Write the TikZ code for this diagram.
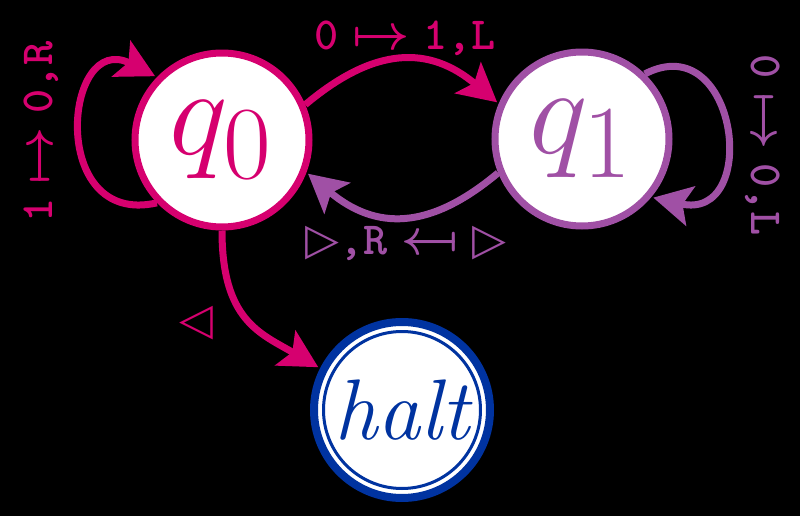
\documentclass[tikz,border=0pt]{standalone}
\usepackage{amsmath}
\usepackage{amssymb}
\usepackage{graphicx}
\usepackage{fontspec}
\usepackage{tikz}
\usetikzlibrary{arrows.meta}

\newfontfamily\trifont{DejaVu Sans}

\definecolor{rubine}{RGB}{214,0,111}
\definecolor{orchid}{RGB}{160,80,165}
\definecolor{royal}{RGB}{0,51,160}

\newcommand{\mto}{\hspace{.3em}$\mapsto$\hspace{.3em}}
\newcommand{\mfrom}{\hspace{.3em}\reflectbox{$\mapsto$}\hspace{.3em}}
\newcommand{\tri}[1]{{\fontsize{22}{22}\selectfont\trifont\bfseries #1}}

\begin{document}
\begin{tikzpicture}[x=0.5pt,y=0.5pt,->,>={Stealth[length=19pt,width=20pt,inset=4pt]},shorten >=1pt,line width=3.5pt,
    state/.style={circle, draw, fill=white, minimum size=87pt, inner sep=0pt},
    lbl/.style={font=\fontsize{23}{23}\selectfont\ttfamily\bfseries\boldmath, inner sep=0pt}]

      \fill[black, -] (0,0) rectangle (800,516);

      \node[state, draw=rubine, text=rubine, font=\Huge] (q0) at (222,376) {\scalebox{2.5}{$q_0$}};
      \node[state, draw=orchid, text=orchid, font=\Huge] (q1) at (582,377) {\scalebox{2.5}{$q_1$}};
      \node[state, draw=royal, text=royal, line width=4pt, minimum size=88pt, font=\fontsize{43}{43}\selectfont\itshape] (halt) at (402,106) {halt};
      \draw[-, royal, line width=1.5pt] (halt.center) circle[radius=39.25pt];

      \node[lbl, text=rubine, rotate=90] (l00) at (41,384) {1\mto0,R};
      \node[lbl, text=rubine] (l01) at (405,478) {0\mto1,L};
      \node[lbl, text=orchid, rotate=-90] (l11) at (763,371) {0\mto0,L};
      \node[lbl, text=orchid] (l10) at (406,273) {\tri{▷},R\mfrom\tri{▷}};
      \node[lbl, text=rubine] (lh) at (196,193) {\tri{◁}};

      \draw[rubine] (q0.224) .. controls +(-110,-25) and +(-93,48) .. (q0.136);
      \draw[rubine] (q0.23) to[out=40, in=140, looseness=1.2] (q1.157);
      \draw[orchid] (q1.202) to[out=-140, in=-40, looseness=1.2] (q0.339);
      \draw[orchid] (q1.46) .. controls +(93,48) and +(110,-25) .. (q1.-40);
      \draw[rubine] (q0.south) .. controls +(0,-90) and +(-60,35) .. (halt.153);

\end{tikzpicture}
\end{document}
